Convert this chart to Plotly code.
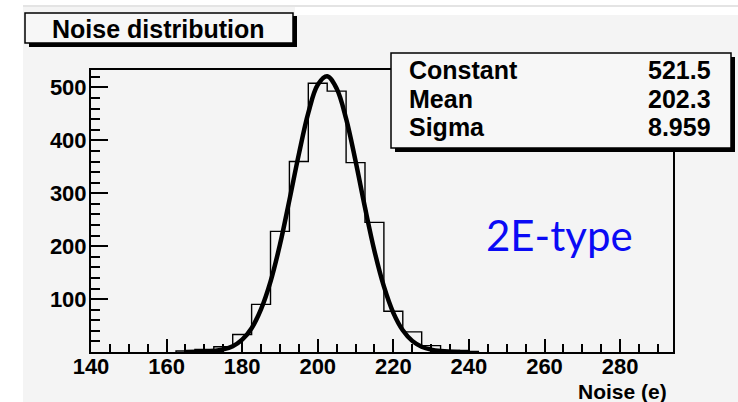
import plotly.graph_objects as go

# ---- data ----
bin_centers = [165, 170, 175, 180, 185, 190, 195, 200, 205, 210, 215, 220, 225, 230, 235, 240]
bin_counts = [2, 5, 10, 33, 90, 228, 360, 508, 493, 358, 245, 77, 38, 12, 3, 1]
bin_width = 5

fit_x = [165, 170, 172.5, 175, 177.5, 180, 182.5, 185, 187.5, 190, 192.5, 195, 197.5, 200,
         202.5, 205, 207.5, 210, 212.5, 215, 217.5, 220, 222.5, 225, 227.5, 230, 232.5, 235, 240]
fit_y = [0.1, 0.8, 2, 5, 11, 23.5, 45, 81, 133, 203, 287, 374, 452, 505,
         521, 498, 441, 361, 273, 191, 124, 74, 41, 21, 10, 4.4, 1.8, 0.7, 0.1]

stat_names = ["Constant", "Mean", "Sigma"]
stat_values = ["521.5", "202.3", "8.959"]

title_text = "Noise distribution"
xaxis_title = "Noise (e)"
tag_text = "2E-type"

x_range = [140, 294]
y_range = [0, 533]

# ---- geometry ----
W, H = 738, 402
L, R, T, B = 91, 673, 70, 352


def px(x):
    return (x - L) / (R - L)


def py(y):
    return (B - y) / (B - T)


# histogram outline as a step line
hx, hy = [], []
first_edge = bin_centers[0] - bin_width / 2
hx.append(first_edge)
hy.append(0)
for c, v in zip(bin_centers, bin_counts):
    hx += [c - bin_width / 2, c + bin_width / 2]
    hy += [v, v]
hx.append(bin_centers[-1] + bin_width / 2)
hy.append(0)

fig = go.Figure()
fig.add_trace(go.Scatter(x=hx, y=hy, mode="lines",
                         line=dict(color="black", width=1.4),
                         hoverinfo="skip", showlegend=False))
fig.add_trace(go.Scatter(x=fit_x, y=fit_y, mode="lines", line_shape="spline",
                         line=dict(color="black", width=4.5),
                         hoverinfo="skip", showlegend=False))

gray = "#f4f4f4"
shapes = [
    dict(type="rect", xref="paper", yref="paper", layer="below",
         x0=px(23), x1=px(W), y0=py(5), y1=py(H), fillcolor=gray, line=dict(width=0)),
    dict(type="rect", xref="paper", yref="paper", layer="below",
         x0=px(23), x1=px(W), y0=py(5), y1=py(7), fillcolor="#e4e4e4", line=dict(width=0)),
    dict(type="rect", xref="paper", yref="paper", layer="below",
         x0=px(295), x1=px(W), y0=py(7), y1=py(15), fillcolor="white", line=dict(width=0)),
    # title box
    dict(type="rect", xref="paper", yref="paper", layer="above",
         x0=px(29), x1=px(297), y0=py(16), y1=py(47), fillcolor="black", line=dict(width=0)),
    dict(type="rect", xref="paper", yref="paper", layer="above",
         x0=px(25), x1=px(293), y0=py(13), y1=py(43), fillcolor="#f7f7f7",
         line=dict(color="black", width=1.5)),
    # stats box
    dict(type="rect", xref="paper", yref="paper", layer="above",
         x0=px(395), x1=px(735), y0=py(57), y1=py(152), fillcolor="black", line=dict(width=0)),
    dict(type="rect", xref="paper", yref="paper", layer="above",
         x0=px(391), x1=px(731), y0=py(53), y1=py(148), fillcolor="#f7f7f7",
         line=dict(color="black", width=1.5)),
]

bold = dict(family="Liberation Sans, Arial, sans-serif", color="black", weight="bold")
annotations = [
    dict(text=title_text, x=px(158), y=py(29), xref="paper", yref="paper",
         xanchor="center", yanchor="middle", showarrow=False, font=dict(size=25, **bold)),
    dict(text=xaxis_title, x=px(669), y=py(391), xref="paper", yref="paper",
         xanchor="right", yanchor="middle", showarrow=False, font=dict(size=21, **bold)),
    dict(text=tag_text, x=px(559), y=py(235), xref="paper", yref="paper",
         xanchor="center", yanchor="middle", showarrow=False,
         font=dict(size=42, family="Lato, Open Sans, sans-serif", color="#0a0af5")),
]
stat_y = [70, 99, 127]
for name, val, yy in zip(stat_names, stat_values, stat_y):
    annotations.append(dict(text=name, x=px(407), y=py(yy), xref="paper", yref="paper",
                            xanchor="left", yanchor="middle", showarrow=False,
                            font=dict(size=25, **bold)))
    annotations.append(dict(text=val, x=px(713), y=py(yy), xref="paper", yref="paper",
                            xanchor="right", yanchor="middle", showarrow=False,
                            font=dict(size=25, **bold)))

axis_common = dict(showline=True, linecolor="black", linewidth=2, mirror=True,
                   showgrid=False, zeroline=False, ticks="inside", tickcolor="black",
                   tickwidth=1.5, tickfont=dict(size=22, **bold))

fig.update_layout(
    width=W, height=H,
    margin=dict(l=L, r=W - R, t=T, b=H - B),
    paper_bgcolor="white", plot_bgcolor="rgba(0,0,0,0)",
    shapes=shapes, annotations=annotations, showlegend=False,
    xaxis=dict(range=x_range, tick0=140, dtick=20, ticklen=13, ticklabelstandoff=-6,
               minor=dict(dtick=5, ticklen=8, ticks="inside", tickcolor="black", tickwidth=1.5),
               **axis_common),
    yaxis=dict(range=y_range, tick0=0, dtick=100, ticklen=17, ticklabelstandoff=-2,
               tickvals=[100, 200, 300, 400, 500],
               minor=dict(dtick=20, ticklen=9, ticks="inside", tickcolor="black", tickwidth=1.5),
               **axis_common),
)

fig.write_html("out.html")
